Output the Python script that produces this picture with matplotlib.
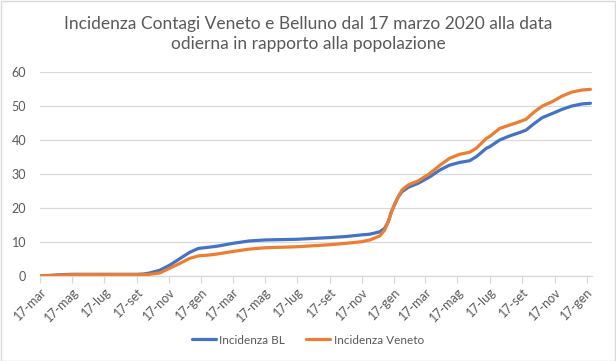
import matplotlib
matplotlib.use("Agg")
import matplotlib.pyplot as plt
import matplotlib.dates as mdates
from matplotlib.patches import Rectangle
import datetime as dt

plt.rcParams['font.family'] = ['Lato', 'DejaVu Sans']

title = "Incidenza Contagi Veneto e Belluno dal 17 marzo 2020 alla data\nodierna in rapporto alla popolazione"
series_names = ["Incidenza BL", "Incidenza Veneto"]
month_abbr = {1: "gen", 2: "feb", 3: "mar", 4: "apr", 5: "mag", 6: "giu",
              7: "lug", 8: "ago", 9: "set", 10: "ott", 11: "nov", 12: "dic"}
y_ticks = [0, 10, 20, 30, 40, 50, 60]

dates = ["2020-03-17", "2020-04-17", "2020-05-17", "2020-07-17", "2020-09-17",
         "2020-09-30", "2020-10-11", "2020-10-30", "2020-11-18", "2020-12-07",
         "2020-12-26", "2021-01-11", "2021-02-02", "2021-02-17", "2021-03-17",
         "2021-04-17", "2021-05-17", "2021-07-17", "2021-09-17", "2021-10-17",
         "2021-11-17", "2021-12-02", "2021-12-21", "2021-12-30", "2022-01-06",
         "2022-01-12", "2022-01-19", "2022-01-25", "2022-02-01", "2022-02-13",
         "2022-03-04", "2022-03-26", "2022-04-14", "2022-05-02", "2022-05-21",
         "2022-06-09", "2022-06-22", "2022-07-11", "2022-07-17", "2022-08-05",
         "2022-08-24", "2022-09-12", "2022-09-24", "2022-10-10", "2022-10-25",
         "2022-11-13", "2022-12-01", "2022-12-20", "2023-01-08", "2023-01-24"]

incidenza_bl = [0.0, 0.3, 0.5, 0.5, 0.5,
                0.6, 0.9, 1.7, 3.2, 5.1,
                7.0, 8.1, 8.5, 8.8, 9.6,
                10.3, 10.6, 10.8, 11.3, 11.6,
                12.1, 12.3, 13.0, 14.0, 16.0,
                18.9, 21.4, 23.3, 24.8, 26.1,
                27.3, 29.2, 31.2, 32.6, 33.4,
                33.9, 35.1, 37.6, 38.0, 40.0,
                41.2, 42.2, 42.9, 44.9, 46.6,
                47.8, 49.0, 50.0, 50.6, 50.8]

incidenza_veneto = [0.0, 0.2, 0.4, 0.4, 0.4,
                    0.4, 0.5, 0.9, 2.3, 3.7,
                    5.2, 5.9, 6.2, 6.5, 7.2,
                    7.9, 8.3, 8.6, 9.2, 9.6,
                    10.1, 10.6, 11.8, 13.5, 16.0,
                    18.9, 21.4, 23.4, 25.3, 26.8,
                    28.0, 30.2, 32.6, 34.6, 35.8,
                    36.4, 37.6, 40.5, 41.0, 43.4,
                    44.4, 45.4, 46.1, 48.3, 50.0,
                    51.3, 52.9, 54.1, 54.7, 54.9]

x = [dt.datetime.strptime(d, "%Y-%m-%d") for d in dates]

W, H = 616, 361
fig = plt.figure(figsize=(W / 100, H / 100), dpi=100)
fig.patch.set_facecolor("white")
fig.patches.append(Rectangle((0.5 / W, 0.5 / H), 1 - 1.5 / W, 1 - 1.5 / H,
                             transform=fig.transFigure, fill=False,
                             edgecolor="#d9d9d9", linewidth=1))

ax = fig.add_axes([40 / W, 1 - 276 / H, (592 - 40) / W, (276 - 72) / H])
grid_c = "#d9d9d9"
text_c = "#595959"

ax.plot(x, incidenza_bl, color="#4472C4", lw=2.3, label=series_names[0],
        solid_joinstyle="round", solid_capstyle="round", zorder=3)
ax.plot(x, incidenza_veneto, color="#ED7D31", lw=2.3, label=series_names[1],
        solid_joinstyle="round", solid_capstyle="round", zorder=4)

ax.set_ylim(0, 60)
ax.set_yticks(y_ticks)
ax.set_xlim(dt.datetime(2020, 3, 17), dt.datetime(2023, 1, 27))
ax.xaxis.set_major_locator(mdates.MonthLocator(bymonth=(1, 3, 5, 7, 9, 11), bymonthday=17))
ax.xaxis.set_major_formatter(plt.FuncFormatter(
    lambda v, p: "17-" + month_abbr[mdates.num2date(v).month]))

ax.grid(axis="y", color=grid_c, lw=0.9)
ax.set_axisbelow(True)
for s in ["left", "right", "top"]:
    ax.spines[s].set_visible(False)
ax.spines["bottom"].set_color(grid_c)
ax.spines["bottom"].set_linewidth(0.9)
ax.tick_params(axis="y", length=0, labelsize=9, labelcolor=text_c, pad=10)
ax.tick_params(axis="x", length=5, color=grid_c, width=0.9, labelsize=9,
               labelcolor=text_c, pad=2)
for lab in ax.get_xticklabels():
    lab.set_rotation(45)
    lab.set_ha("right")
    lab.set_va("top")
    lab.set_rotation_mode("anchor")

fig.text(0.5, 1 - 34 / H, title, ha="center", va="center", fontsize=12.5,
         color=text_c, linespacing=1.35)

leg = fig.legend(loc="center", bbox_to_anchor=(0.5, 1 - 340 / H), ncol=2,
                 frameon=False, fontsize=8.5, handlelength=2.0, handletextpad=0.3,
                 columnspacing=1.8)
for t in leg.get_texts():
    t.set_color(text_c)

fig.savefig("out.png", dpi=100, facecolor="white")
